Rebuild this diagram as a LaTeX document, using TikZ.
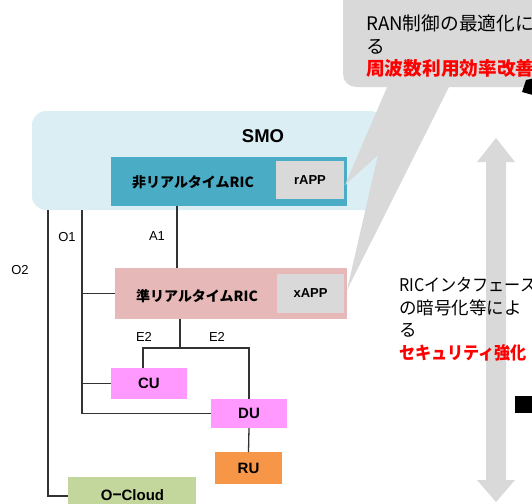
\documentclass[tikz,border=0pt]{standalone}
\usepackage{fontspec}
\setmainfont{Liberation Sans}
\newfontfamily\jp{Noto Sans CJK JP}
\newfontfamily\jpc[FakeStretch=0.92]{Noto Sans CJK JP}
\definecolor{smobg}{HTML}{DAEEF3}
\definecolor{nrtc}{HTML}{4BACC6}
\definecolor{nearc}{HTML}{E6B9B8}
\definecolor{appc}{HTML}{D9D9D9}
\definecolor{cuc}{HTML}{FF99FF}
\definecolor{ruc}{HTML}{F79646}
\definecolor{ocl}{HTML}{C3D69B}
\definecolor{callc}{HTML}{D9D9D9}
\definecolor{linec}{HTML}{333333}
\tikzset{
  boxbase/.style={draw=none, inner sep=0pt, outer sep=0pt},
  smobox/.style={boxbase, fill=smobg, rounded corners=14pt},
  nrtbox/.style={boxbase, fill=nrtc},
  nearbox/.style={boxbase, fill=nearc},
  appbox/.style={boxbase, fill=appc, font=\bfseries\fontsize{13pt}{15pt}\selectfont},
  magbox/.style={boxbase, fill=cuc, font=\bfseries\fontsize{15pt}{17pt}\selectfont},
  rubox/.style={boxbase, fill=ruc, font=\bfseries\fontsize{15pt}{17pt}\selectfont},
  oclbox/.style={boxbase, fill=ocl},
  conn/.style={draw=linec, line width=1.3pt},
  iflabel/.style={inner sep=0pt, font=\fontsize{13pt}{15pt}\selectfont},
  riclabel/.style={inner sep=0pt, font=\jp\bfseries\fontsize{14pt}{16pt}\selectfont},
  calltext/.style={inner sep=0pt, anchor=base west, font=\jp\fontsize{18.7pt}{21pt}\selectfont},
  redtext/.style={calltext, text=red, font=\jp\bfseries\fontsize{18.7pt}{21pt}\selectfont},
  sidetext/.style={inner sep=0pt, anchor=base west, font=\jp\fontsize{17.5pt}{21pt}\selectfont},
  sidetextc/.style={sidetext, font=\jpc\fontsize{17.5pt}{21pt}\selectfont},
  sidered/.style={sidetext, text=red, font=\jpc\bfseries\fontsize{17.5pt}{21pt}\selectfont},
}
\begin{document}
\begin{tikzpicture}[x=1pt,y=-1pt]
\useasboundingbox (0,0) rectangle (532,503);
\clip (0,0) rectangle (532,503);
% SMO
\node[smobox, minimum width=352pt, minimum height=99pt] (smo) at (208,160.5) {};
\node[inner sep=0pt, font=\bfseries\fontsize{18.5pt}{20pt}\selectfont] (smolbl) at (263,136) {SMO};
% non-RT RIC
\node[nrtbox, minimum width=236pt, minimum height=49pt] (nrt) at (229,181.5) {};
\node[riclabel] (nrtlbl) at (193,182) {非リアルタイムRIC};
\node[appbox, minimum width=68pt, minimum height=38pt] (rapp) at (310,180) {rAPP};
% near-RT RIC
\node[nearbox, minimum width=232pt, minimum height=51pt] (near) at (231,293.5) {};
\node[riclabel] (nearlbl) at (197,296) {準リアルタイムRIC};
\node[appbox, minimum width=67pt, minimum height=39pt] (xapp) at (310.5,293.5) {xAPP};
% CU DU RU O-Cloud
\node[magbox, minimum width=76pt, minimum height=31pt] (cu) at (149,383.5) {CU};
\node[magbox, minimum width=76pt, minimum height=29pt] (du) at (249,413.5) {DU};
\node[rubox, minimum width=67pt, minimum height=32pt] (ru) at (248.5,468) {RU};
\node[oclbox, minimum width=128pt, minimum height=38pt] (ocloud) at (132,496) {};
\node[inner sep=0pt, font=\bfseries\fontsize{15pt}{17pt}\selectfont] (ocllbl) at (132.5,495) {O{\jp −}Cloud};
% coordinates
\coordinate (a1x) at (177,0);
\coordinate (o1x) at (82,0);
\coordinate (o2x) at (48,0);
\coordinate (e2j) at (180,348);
\coordinate (e2l) at (143,348);
\coordinate (e2r) at (249,348);
% connectors
\draw[conn] (nrt.south -| a1x) -- (near.north -| a1x);
\draw[conn] (smo.south -| o1x) |- (du.west);
\draw[conn] (o1x |- near.west) -- (near.west);
\draw[conn] (o1x |- cu.west) -- (cu.west);
\draw[conn] (smo.south -| o2x) |- (ocloud.west);
\draw[conn] (near.south -| e2j) -- (e2j);
\draw[conn] (cu.north -| e2l) -- (e2l) -- (e2r) -- (du.north -| e2r);
\draw[conn] (du.south) -- (ru.north);
% interface labels
\node[iflabel] (lo1) at (67,237) {O1};
\node[iflabel] (la1) at (157,236) {A1};
\node[iflabel] (lo2) at (20,270) {O2};
\node[iflabel] (le2a) at (144,337) {E2};
\node[iflabel] (le2b) at (217,337) {E2};
% callout
\fill[callc, rounded corners=13pt] (343,-20) rectangle (580,87);
\fill[callc] (388,85) -- (345,185) -- (378,155) -- (347,290) -- (450,85) -- cycle;
\node[calltext] (c1) at (366,31) {RAN制御の最適化に};
\node[calltext] (c2) at (366,53) {る};
\node[redtext] (c3) at (366,75.5) {周波数利用効率改善};
% black partial shapes
\fill[black] (526,80) -- (540,77) -- (540,97) -- (522,92) -- cycle;
% double arrow
\fill[appc] (496,138) -- (515,162) -- (506,162) -- (506,480) -- (515,480) -- (496,502) -- (477,480) -- (486,480) -- (486,162) -- (477,162) -- cycle;
\fill[black] (515,396) rectangle (540,413);
% right text
\node[sidetextc] (r1) at (399,291.5) {RICインタフェース};
\node[sidetext] (r2) at (399,314) {の暗号化等によ};
\node[sidetext] (r3) at (399,336.5) {る};
\node[sidered] (r4) at (399,359) {セキュリティ強化};
\end{tikzpicture}
\end{document}
